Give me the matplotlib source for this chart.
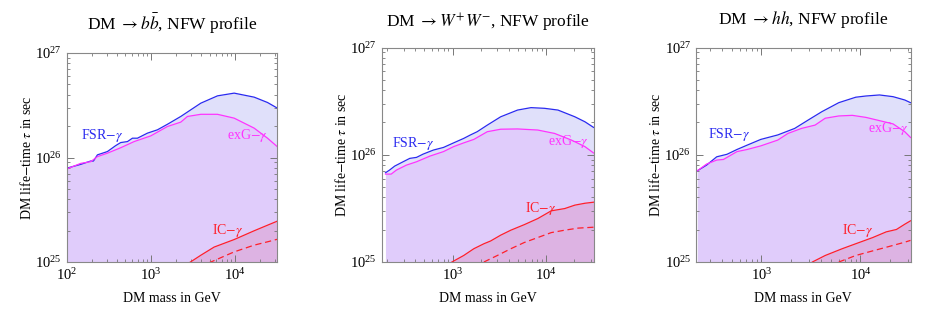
import matplotlib
matplotlib.use("Agg")
import matplotlib.pyplot as plt

plt.rcParams["font.family"] = ["Liberation Serif", "DejaVu Serif"]
plt.rcParams["mathtext.fontset"] = "stix"

# masses in GeV, lifetimes in units of 1e25 s

# DM -> b bbar
bb_fsr_m = [100, 147, 193, 208, 232, 305, 383, 439, 528, 605, 694, 912, 1200, 1580, 2275, 3936, 6220, 9820, 16980, 24480, 32000]
bb_fsr_t = [7.9, 8.6, 9.25, 9.25, 10.6, 11.4, 13.0, 13.9, 14.2, 15.3, 15.3, 17.1, 18.4, 20.8, 24.7, 33.1, 38.9, 41.3, 37.8, 33.6, 29.7]
bb_exg_m = [100, 147, 193, 232, 305, 439, 634, 1000, 1580, 2275, 2733, 3936, 6220, 9820, 16980, 24480, 32000]
bb_exg_t = [7.76, 8.79, 9.12, 10.2, 11.0, 12.4, 14.2, 16.1, 19.8, 21.8, 24.7, 25.9, 25.9, 23.8, 19.1, 15.3, 12.7]
bb_ic_m = [2800, 3936, 5675, 9820, 16980, 24480, 32000]
bb_ic_t = [0.97, 1.16, 1.39, 1.64, 1.99, 2.25, 2.46]
bb_icd_m = [4900, 9820, 16980, 24480, 32000]
bb_icd_t = [0.98, 1.25, 1.45, 1.56, 1.65]

# DM -> W+ W-
ww_fsr_m = [192, 212, 241, 296, 349, 412, 486, 624, 800, 1025, 1315, 1552, 1832, 2350, 3267, 4944, 6885, 9590, 13360, 20220, 25920, 32000]
ww_fsr_t = [6.79, 7.19, 7.84, 8.60, 9.25, 9.45, 10.15, 11.06, 11.7, 12.9, 14.2, 15.3, 16.4, 18.9, 22.6, 26.1, 27.5, 27.1, 26.1, 22.6, 20.3, 18.0]
ww_exg_m = [192, 221, 251, 321, 412, 574, 800, 1025, 1315, 1687, 2350, 3267, 4944, 8125, 12300, 18610, 25920, 32000]
ww_exg_t = [6.60, 6.60, 7.19, 8.00, 8.60, 9.72, 10.7, 11.9, 12.9, 13.9, 16.4, 17.3, 17.4, 17.0, 15.8, 13.7, 11.9, 10.4]
ww_ic_m = [984, 1315, 1687, 2162, 2549, 3267, 4190, 5835, 8125, 11320, 15770, 20220, 25920, 32000]
ww_ic_t = [1.0, 1.15, 1.33, 1.48, 1.57, 1.78, 1.98, 2.23, 2.54, 3.00, 3.15, 3.39, 3.53, 3.61]
ww_icd_m = [2162, 3008, 4190, 5835, 8125, 11320, 15770, 21960, 32000]
ww_icd_t = [1.0, 1.15, 1.33, 1.52, 1.69, 1.88, 1.98, 2.07, 2.11]

# DM -> h h
hh_fsr_m = [225, 279, 353, 448, 566, 718, 984, 1460, 2165, 2970, 4070, 6040, 8960, 11350, 15550, 21310, 28000, 32000]
hh_fsr_t = [7.09, 8.01, 9.57, 10.1, 11.2, 12.3, 13.9, 15.3, 17.6, 21.1, 25.2, 30.6, 34.4, 35.3, 36.1, 34.8, 32.4, 30.6]
hh_exg_m = [225, 279, 353, 413, 566, 718, 984, 1460, 1850, 2537, 3478, 4403, 6040, 8280, 11350, 15550, 21310, 28000, 32000]
hh_exg_t = [7.09, 8.19, 8.92, 9.04, 10.7, 11.2, 12.1, 13.7, 15.8, 17.6, 18.9, 21.9, 23.0, 23.3, 22.3, 20.8, 19.4, 16.4, 14.5]
hh_ic_m = [3266, 4403, 6536, 8960, 13290, 18200, 23070, 28000, 32000]
hh_ic_t = [1.0, 1.15, 1.33, 1.48, 1.69, 1.91, 2.01, 2.25, 2.42]
hh_icd_m = [6040, 8960, 13290, 19710, 28000, 32000]
hh_icd_t = [1.0, 1.15, 1.27, 1.40, 1.53, 1.59]

titles = [r"DM $\rightarrow b\bar{b}$, NFW profile",
          r"DM $\rightarrow W^{+}W^{-}$, NFW profile",
          r"DM $\rightarrow hh$, NFW profile"]
xmins = [100, 175, 218]
label_pos = [
    [(266, 16.4), (14100, 16.4), (8180, 2.0)],
    [(380, 12.8), (17100, 13.3), (8830, 3.15)],
    [(466, 15.3), (18900, 17.6), (9310, 1.98)],
]
panels = [
    (bb_fsr_m, bb_fsr_t, bb_exg_m, bb_exg_t, bb_ic_m, bb_ic_t, bb_icd_m, bb_icd_t),
    (ww_fsr_m, ww_fsr_t, ww_exg_m, ww_exg_t, ww_ic_m, ww_ic_t, ww_icd_m, ww_icd_t),
    (hh_fsr_m, hh_fsr_t, hh_exg_m, hh_exg_t, hh_ic_m, hh_ic_t, hh_icd_m, hh_icd_t),
]

W, H = 926, 317
boxes = [(66.7, 277.3, 53, 262), (381.7, 593.5, 47.5, 262), (696, 910.5, 47.5, 262)]
title_y = [24, 22.7, 20]

fig = plt.figure(figsize=(9.26, 3.17), dpi=100)

blue, mag, red = "#2a2af0", "#ff33ff", "#ff1f2a"
fill_fsr, fill_exg, fill_ic = "#e0e0fa", "#e0ccfb", "#ddb3e3"

for i, (fm, ft, em, et, im, it, dm, dt) in enumerate(panels):
    l, r, t, b = boxes[i]
    ax = fig.add_axes([l / W, (H - b) / H, (r - l) / W, (b - t) / H])
    ax.set_xscale("log")
    ax.set_yscale("log")
    s = 1e25
    ax.fill_between(fm, [v * s for v in ft], 1e24, color=fill_fsr, lw=0)
    ax.fill_between(em, [v * s for v in et], 1e24, color=fill_exg, lw=0)
    ax.fill_between(im, [v * s for v in it], 1e24, color=fill_ic, lw=0)
    ax.plot(fm, [v * s for v in ft], color=blue, lw=0.9)
    ax.plot(em, [v * s for v in et], color=mag, lw=0.9)
    ax.plot(im, [v * s for v in it], color=red, lw=0.9)
    ax.plot(dm, [v * s for v in dt], color=red, lw=0.9, ls=(0, (5, 3)))
    ax.set_xlim(xmins[i], 32000)
    ax.set_ylim(1e25, 1e27)

    (x1, y1), (x2, y2), (x3, y3) = label_pos[i]
    ax.text(x1, y1 * s, r"FSR$-\gamma$", color=blue, fontsize=10, ha="center", va="center")
    ax.text(x2, y2 * s, r"exG$-\gamma$", color=mag, fontsize=10, ha="center", va="center")
    ax.text(x3, y3 * s, r"IC$-\gamma$", color=red, fontsize=10, ha="center", va="center")

    for sp in ax.spines.values():
        sp.set_color("#888888")
        sp.set_linewidth(0.8)
    ax.tick_params(which="both", direction="in", top=True, right=True,
                   color="#777777", labelsize=10.5)
    ax.tick_params(which="major", length=5, width=0.7)
    ax.tick_params(which="minor", length=2.5, width=0.6)
    ax.set_xlabel("DM mass in GeV", fontsize=10, labelpad=7)
    ax.set_ylabel(r"DM life$-$time $\tau$ in sec", fontsize=10, labelpad=1)
    fig.text((l + r) / 2 / W, 1 - title_y[i] / H, titles[i], fontsize=12.5,
             ha="center", va="center")

fig.savefig("out.png", dpi=100)
